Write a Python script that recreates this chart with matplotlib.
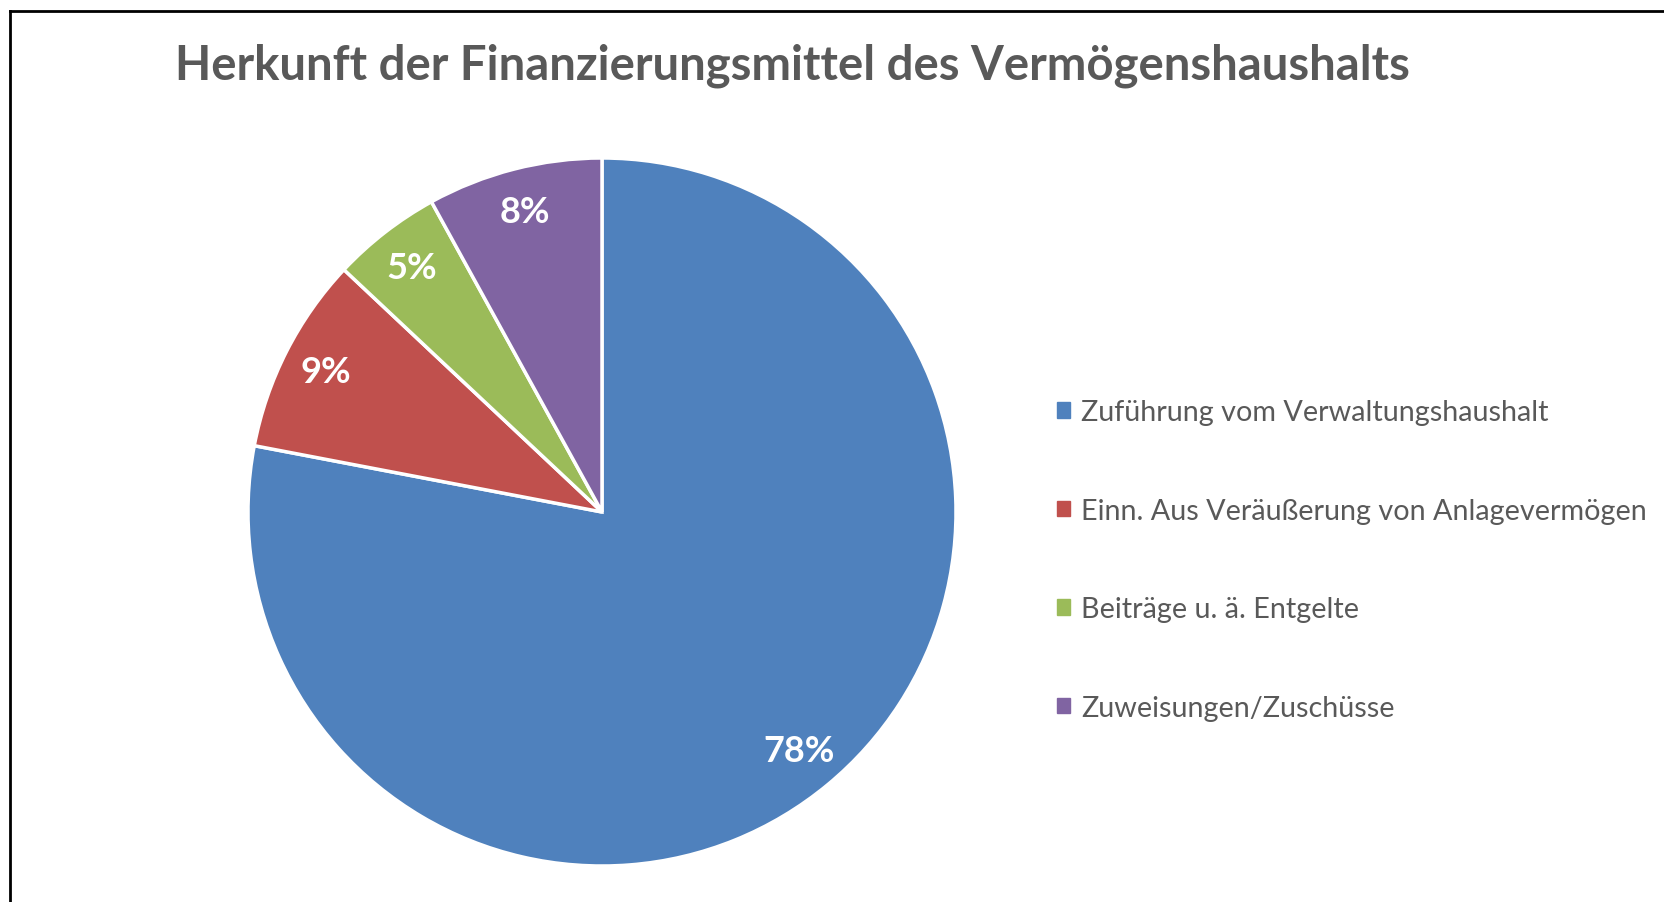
import matplotlib
matplotlib.use("Agg")
from matplotlib import pyplot as plt
import matplotlib.patches as mpatches
from matplotlib.lines import Line2D

# data
categories = ["Zuführung vom Verwaltungshaushalt",
              "Einn. Aus Veräußerung von Anlagevermögen",
              "Beiträge u. ä. Entgelte",
              "Zuweisungen/Zuschüsse"]
shares = [78, 9, 5, 8]
colors = ["#4F81BD", "#C0504D", "#9BBB59", "#8064A2"]
title = "Herkunft der Finanzierungsmittel des Vermögenshaushalts"

W, H = 1665, 903
plt.rcParams['font.family'] = ['Lato', 'DejaVu Sans']
text_grey = "#595959"

fig = plt.figure(figsize=(W / 100, H / 100), dpi=100)
fig.patch.set_facecolor("white")

# pie centre (602, 513) px, radius 354 px
cx, cy, r = 602, 513, 354
ax = fig.add_axes([(cx - r) / W, (H - cy - r) / H, 2 * r / W, 2 * r / H])
wedges, _, autotexts = ax.pie(shares, colors=colors, startangle=90, counterclock=False,
                              autopct=lambda p: "{:.0f}%".format(p), pctdistance=0.875,
                              wedgeprops=dict(edgecolor="white", linewidth=2.5),
                              textprops=dict(color="white", fontsize=26, fontweight="bold"))
ax.set_xlim(-1, 1)
ax.set_ylim(-1, 1)
ax.set_aspect("equal")
ax.axis("off")

fig.text(792 / W, 1 - 66 / H, title, ha="center", va="center",
         fontsize=34, fontweight="bold", color=text_grey)

handles = [mpatches.Patch(color=c, label=l) for c, l in zip(colors, categories)]
leg = fig.legend(handles=handles, loc="center left", bbox_to_anchor=(1031 / W, 1 - 561 / H),
                 frameon=False, fontsize=20.7, handlelength=0.45, handleheight=0.45,
                 handletextpad=0.4, labelspacing=2.52)
for t in leg.get_texts():
    t.set_color(text_grey)

# frame of the screenshot: only left and top edges are visible
fig.add_artist(Line2D([10 / W, 10 / W], [0, 1 - 12 / H], color="black", linewidth=2,
                      transform=fig.transFigure))
fig.add_artist(Line2D([10 / W, 1], [1 - 12 / H, 1 - 12 / H], color="black", linewidth=2,
                      transform=fig.transFigure))

fig.savefig("out.png", dpi=100)
